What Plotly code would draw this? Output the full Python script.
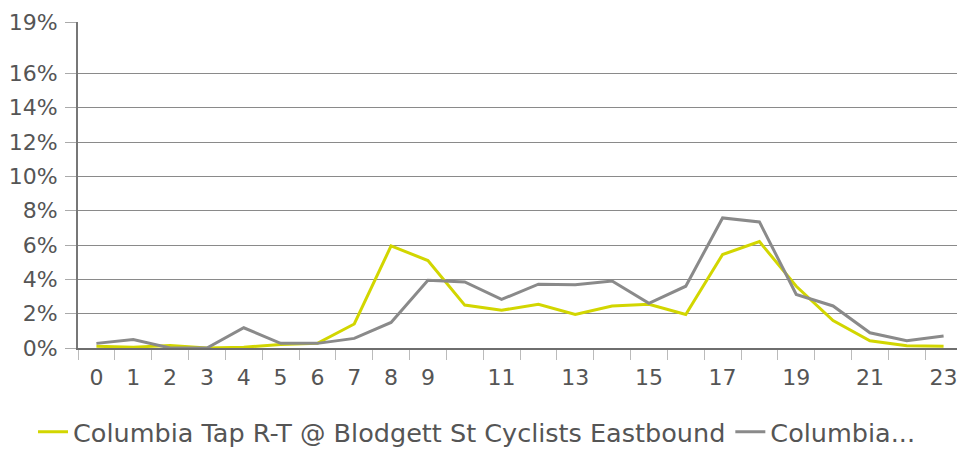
import plotly.graph_objects as go

hours = list(range(24))
eastbound = [0.1, 0.05, 0.15, 0.0, 0.05, 0.2, 0.27, 1.4, 5.95, 5.1, 2.5, 2.2,
             2.55, 1.95, 2.45, 2.55, 1.95, 5.45, 6.2, 3.6, 1.6, 0.42, 0.13, 0.1]
other = [0.27, 0.5, 0.0, 0.0, 1.18, 0.27, 0.27, 0.56, 1.49, 3.95, 3.85, 2.83,
         3.72, 3.68, 3.9, 2.6, 3.6, 7.58, 7.35, 3.12, 2.45, 0.89, 0.42, 0.7]
x_tick_vals = [0, 1, 2, 3, 4, 5, 6, 7, 8, 9, 11, 13, 15, 17, 19, 21, 23]
y_tick_vals = [0, 2, 4, 6, 8, 10, 12, 14, 16, 19]
name_a = "Columbia Tap R-T @ Blodgett St Cyclists Eastbound"
name_b = "Columbia..."

tick_font = dict(family="DejaVu Sans", size=22, color="#555555")
legend_font = dict(family="DejaVu Sans", size=25.5, color="#555555")

fig = go.Figure()
fig.add_trace(go.Scatter(x=hours, y=eastbound, mode="lines", name=name_a,
                         line=dict(color="#d2d600", width=3)))
fig.add_trace(go.Scatter(x=hours, y=other, mode="lines", name=name_b,
                         line=dict(color="#8a8a8a", width=3)))

# the page body adds an ~8px offset; the size compensates for it
fig.update_layout(
    width=957, height=441,
    margin=dict(l=70, r=3, t=14, b=101, autoexpand=False),
    plot_bgcolor="white", paper_bgcolor="white",
    font=tick_font,
    showlegend=True,
    legend=dict(orientation="h", x=-0.0509, xanchor="left", xref="paper",
                y=-0.258, yanchor="middle", font=legend_font,
                tracegroupgap=0),
    xaxis=dict(
        range=[-0.5, 23.5], tickmode="array", tickvals=x_tick_vals,
        ticktext=[str(v) for v in x_tick_vals],
        ticks="", showgrid=False, zeroline=False,
        showline=True, linecolor="#6e6e6e", linewidth=2,
        ticklabelstandoff=9, tickfont=tick_font,
        minor=dict(tickmode="array", tickvals=[h - 0.5 for h in range(25)],
                   ticks="outside", ticklen=10, tickcolor="#bbbbbb",
                   tickwidth=1, showgrid=False),
    ),
    yaxis=dict(
        range=[0, 19], tickmode="array", tickvals=y_tick_vals,
        ticktext=[f"{v}%" for v in y_tick_vals],
        ticks="outside", ticklen=11, tickcolor="#aaaaaa", tickwidth=1,
        showgrid=True, gridcolor="#8a8a8a", gridwidth=1,
        zeroline=False, showline=True, linecolor="#777777", linewidth=2,
        ticklabelstandoff=3, tickfont=tick_font,
    ),
)

fig.write_html("out.html")
